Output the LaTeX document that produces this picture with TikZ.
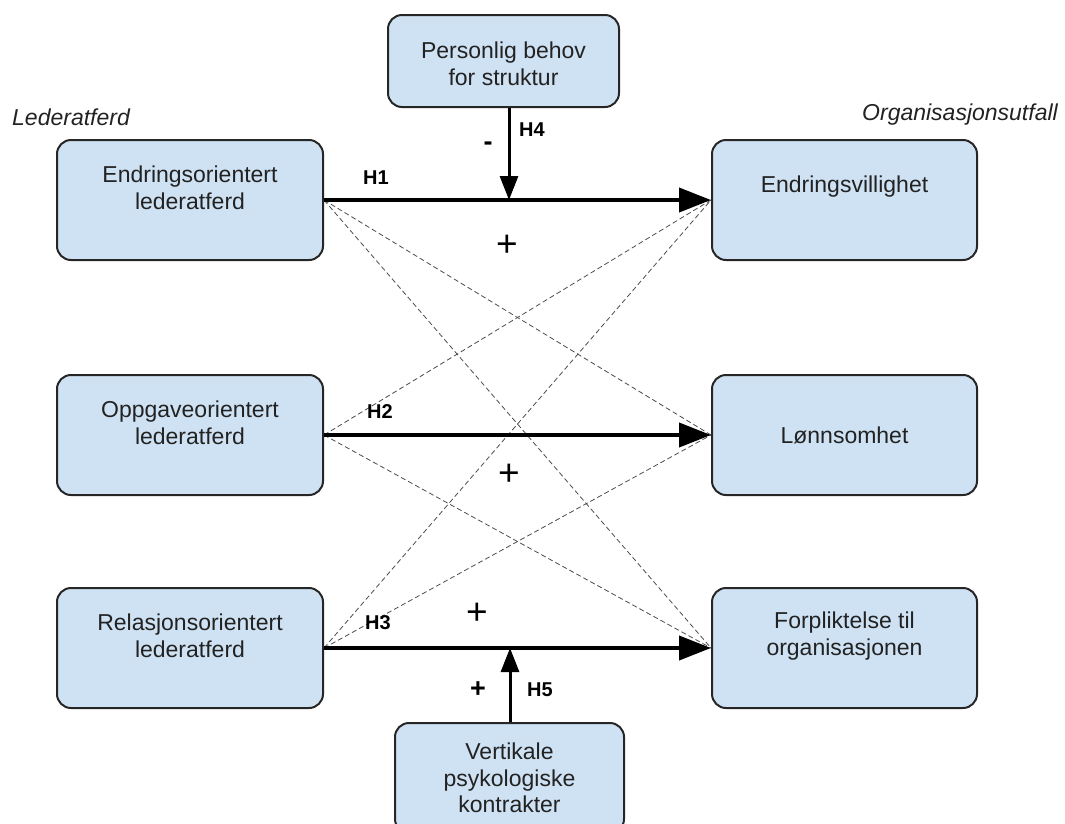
\documentclass[tikz,border=0pt]{standalone}
\usepackage{fontspec}
\setmainfont{Liberation Sans}
\usetikzlibrary{arrows.meta}
\definecolor{boxfill}{HTML}{CFE2F3}
\definecolor{txt}{HTML}{222222}
\begin{document}
\begin{tikzpicture}[x=1pt,y=-1pt,
 box/.style={draw=black!85, line width=2pt, fill=boxfill, rounded corners=14pt, inner sep=0pt},
 btxt/.style={align=center, font=\fontsize{23}{27}\selectfont, text=txt},
 hlab/.style={font=\fontsize{20}{24}\selectfont\bfseries},
 sign/.style={font=\fontsize{37}{40}\selectfont, inner sep=0pt},
 bsign/.style={font=\fontsize{27}{30}\selectfont\bfseries, inner sep=0pt},
 mainarrow/.style={line width=4pt, -{Triangle[length=32pt,width=24pt]}},
 modarrow/.style={line width=3pt, -{Triangle[length=24pt,width=18pt]}},
 alt/.style={draw=black!70, line width=0.8pt, dash pattern=on 5pt off 3pt},
 cat/.style={font=\fontsize{23}{27}\selectfont\itshape, text=txt}]
\useasboundingbox (0,0) rectangle (1065,823);

% boxes
\node[box, minimum width=266pt, minimum height=120pt] (L1) at (190,200) {};
\node[box, minimum width=266pt, minimum height=120pt] (L2) at (190,435) {};
\node[box, minimum width=266pt, minimum height=120pt] (L3) at (190,648) {};
\node[box, minimum width=265pt, minimum height=120pt] (R1) at (844.5,200) {};
\node[box, minimum width=265pt, minimum height=120pt] (R2) at (844.5,435) {};
\node[box, minimum width=265pt, minimum height=120pt] (R3) at (844.5,648) {};
\node[box, minimum width=231pt, minimum height=92pt] (T) at (503.5,61) {};
\node[box, minimum width=229pt, minimum height=110pt] (B) at (509.5,778) {};

% box texts
\node[btxt] (tL1) at ([yshift=12pt]L1.center) {Endringsorientert\\lederatferd};
\node[btxt] (tL2) at ([yshift=12pt]L2.center) {Oppgaveorientert\\lederatferd};
\node[btxt] (tL3) at ([yshift=12pt]L3.center) {Relasjonsorientert\\lederatferd};
\node[btxt] (tR1) at ([yshift=13pt]R1.center) {Endringsvillighet};
\node[btxt] (tR2) at ([yshift=0pt]R2.center) {Lønnsomhet};
\node[btxt] (tR3) at ([yshift=12pt]R3.center) {Forpliktelse til\\organisasjonen};
\node[btxt] (tT) at ([yshift=-3pt]T.center) {Personlig behov\\for struktur};
\node[btxt, font=\fontsize{23}{26.5}\selectfont] (tB) at (B.center) {Vertikale\\psykologiske\\kontrakter};

% category labels
\node[cat, anchor=west, inner sep=0pt] (lc) at (12,117) {Lederatferd};
\node[cat, anchor=east, inner sep=0pt] (rc) at (1058,115) {Organisasjonsutfall};

% dashed alternative paths
\draw[alt] (L1.east) -- (R2.west);
\draw[alt] (L1.east) -- (R3.west);
\draw[alt] (L2.east) -- (R1.west);
\draw[alt] (L2.east) -- (R3.west);
\draw[alt] (L3.east) -- (R1.west);
\draw[alt] (L3.east) -- (R2.west);

% main arrows
\draw[mainarrow] (L1.east) -- (R1.west);
\draw[mainarrow] (L2.east) -- (R2.west);
\draw[mainarrow] (L3.east) -- (R3.west);

% moderators
\coordinate (m1) at (509,200);
\coordinate (m3) at (510,648);
\draw[modarrow] (T.south -| m1) -- (m1);
\draw[modarrow] (B.north -| m3) -- (m3);

% labels
\node[hlab] (h1) at (376,178) {H1};
\node[sign] (p1) at (507,246) {+};
\node[bsign] (n4) at (488,146) {-};
\node[hlab] (h4) at (532,130) {H4};
\node[hlab] (h2) at (380,412) {H2};
\node[sign] (p2) at (509,475) {+};
\node[hlab] (h3) at (378,623) {H3};
\node[sign] (p3) at (477,614) {+};
\node[bsign] (p5) at (478,690) {+};
\node[hlab] (h5) at (540,690) {H5};
\end{tikzpicture}
\end{document}
